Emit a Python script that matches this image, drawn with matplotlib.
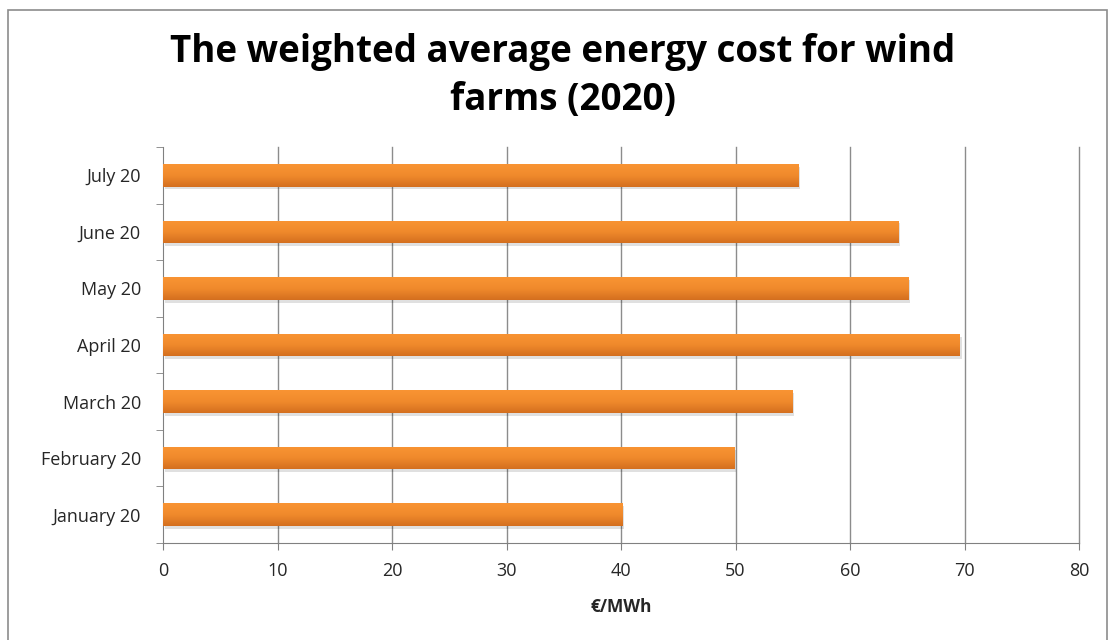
import matplotlib
matplotlib.use("Agg")
import matplotlib.pyplot as plt
import numpy as np
from matplotlib.patches import Rectangle
from matplotlib.colors import LinearSegmentedColormap

months = ["January 20", "February 20", "March 20", "April 20", "May 20", "June 20", "July 20"]
costs = [40.1, 49.9, 55.0, 69.6, 65.1, 64.2, 55.5]
xticks = [0, 10, 20, 30, 40, 50, 60, 70, 80]

plt.rcParams['font.family'] = ['Open Sans', 'DejaVu Sans']

fig = plt.figure(figsize=(11.1, 6.4), dpi=100)
# outer frame
fig.patches.append(Rectangle((8/1110, -0.05), (1107-8)/1110, 1.05 - 10/640,
                             transform=fig.transFigure, fill=False,
                             edgecolor='#8c8c8c', linewidth=1.2))

ax = fig.add_axes([163/1110, 1 - 543/640, (1079-163)/1110, (543-147)/640])
y = np.arange(len(months))
h = 0.40
bars = ax.barh(y, costs, height=h, color='#E9822B', zorder=3)

cmap = LinearSegmentedColormap.from_list('o', ['#D46F1F', '#F08A2C', '#F99433'])
grad = np.linspace(0, 1, 64).reshape(-1, 1)
for b in bars:
    x0, y0 = b.get_x(), b.get_y()
    w, hh = b.get_width(), b.get_height()
    # shadow
    ax.add_patch(Rectangle((x0 + 0.15, y0 - 0.05), w, hh, facecolor='#000000',
                           alpha=0.12, linewidth=0, zorder=2))
    im = ax.imshow(grad, extent=[x0, x0 + w, y0, y0 + hh], cmap=cmap,
                   aspect='auto', origin='lower', zorder=4, interpolation='bilinear')
    im.set_clip_path(b)

ax.set_xlim(0, 80)
ax.set_ylim(-0.5, len(months) - 0.5)
ax.set_xticks(xticks)
ax.set_xticklabels([str(t) for t in xticks])
ax.set_yticks(y)
ax.set_yticklabels(months)
ax.set_yticks(np.arange(-0.5, len(months), 1), minor=True)
ax.tick_params(axis='y', which='major', length=0, pad=16, labelsize=13, labelcolor='#262626')
ax.tick_params(axis='y', which='minor', length=5, color='#808080', direction='out')
ax.tick_params(axis='x', length=5, color='#808080', direction='out', labelsize=13,
               labelcolor='#262626', pad=9)
for xv in xticks[1:]:
    ax.axvline(xv, color='#8c8c8c', linewidth=1.0, zorder=0, clip_on=False)
for s in ['top', 'right']:
    ax.spines[s].set_visible(False)
ax.spines['left'].set_color('#808080')
ax.spines['bottom'].set_color('#808080')
ax.set_xlabel('€/MWh', fontsize=12.5, fontweight='bold', labelpad=13, color='#262626')

fig.text(563/1110, 1 - 76/640, 'The weighted average energy cost for wind\nfarms (2020)',
         ha='center', va='center', fontsize=26.5, fontweight='bold', linespacing=1.33)

fig.savefig('out.png', dpi=100)
